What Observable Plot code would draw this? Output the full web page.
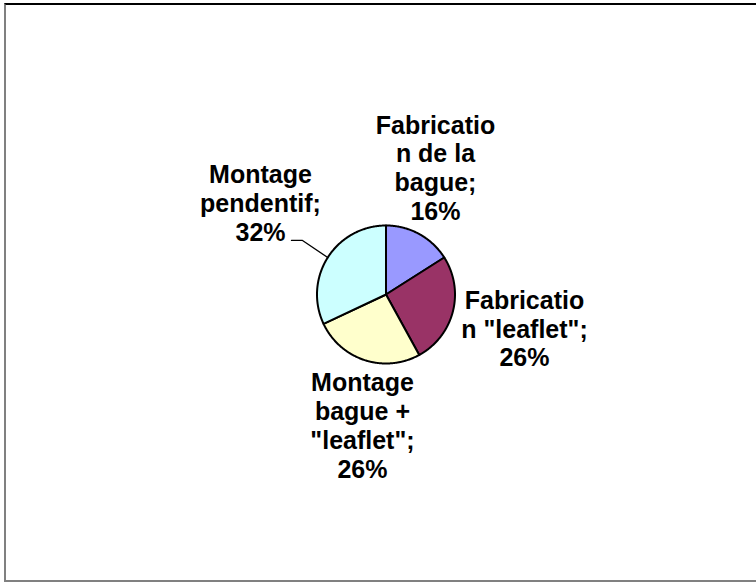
<!DOCTYPE html>
<html><head><meta charset="utf-8">
<script src="https://cdn.jsdelivr.net/npm/d3@7"></script>
<script src="https://cdn.jsdelivr.net/npm/@observablehq/plot@0.6"></script>
<style>
body{margin:0;overflow:hidden;background:#fff}
#wrap{position:relative;width:756px;height:583px;overflow:hidden;background:#fff}
#border{position:absolute;left:4px;top:3px;width:800px;height:575px;border-top:2px solid #000;border-left:2px solid #808080;border-bottom:2px solid #808080;pointer-events:none}
</style></head><body><div id="wrap"><div id="border"></div></div>
<script>
const categories = ["Fabrication de la bague", "Fabrication \"leaflet\"", "Montage bague + \"leaflet\"", "Montage pendentif"];
const values = [16, 26, 26, 32];
const labelTexts = ["Fabricatio\nn de la\nbague;\n16%", "Fabricatio\nn \"leaflet\";\n26%", "Montage\nbague +\n\"leaflet\";\n26%", "Montage\npendentif;\n32%"];
const colors = ["#9999FF", "#993366", "#FFFFCC", "#CCFFFF"];

// layout (in pie-radius units)
const labelX = [0.717, 2.007, -0.341, -1.819];
const labelY = [1.84, -0.493, -1.895, 1.329];

const arcs = d3.pie().sort(null).value(d => d)(values);
const slicePts = [];
arcs.forEach((a, i) => {
  slicePts.push({s: i, x: 0, y: 0, c: colors[i]});
  const n = Math.max(2, Math.ceil((a.endAngle - a.startAngle) / 0.01));
  for (let k = 0; k <= n; k++) {
    const t = a.startAngle + (a.endAngle - a.startAngle) * k / n;
    slicePts.push({s: i, x: Math.sin(t), y: Math.cos(t), c: colors[i]});
  }
  slicePts.push({s: i, x: 0, y: 0, c: colors[i]});
});

const labels = labelTexts.map((t, i) => ({t, x: labelX[i], y: labelY[i]}));
const m4 = (arcs[3].startAngle + arcs[3].endAngle) / 2;
const leader = [
  {x: -1.37, y: 0.783},
  {x: -1.21, y: 0.783},
  {x: Math.sin(m4), y: Math.cos(m4)}
];

const chart = Plot.plot({
  width: 756, height: 583, margin: 0,
  style: {background: "transparent"},
  x: {domain: [-1, 1], range: [316.5, 454.5], axis: null},
  y: {domain: [-1, 1], range: [363, 225], axis: null},
  marks: [
    Plot.line(slicePts, {x: "x", y: "y", z: "s", fill: "c", stroke: "#000", strokeWidth: 2, strokeLinejoin: "round", curve: "linear"}),
    Plot.line(leader, {x: "x", y: "y", stroke: "#000", strokeWidth: 1.3}),
    Plot.text(labels, {x: "x", y: "y", text: "t", fontSize: 25, fontWeight: "bold", fontFamily: "'Liberation Sans', Arial, sans-serif", lineHeight: 1.15, textAnchor: "middle", fill: "#000"})
  ]
});
chart.style.position = "absolute";
chart.style.left = "0";
chart.style.top = "0";
document.getElementById("wrap").appendChild(chart);
</script>
</body></html>
